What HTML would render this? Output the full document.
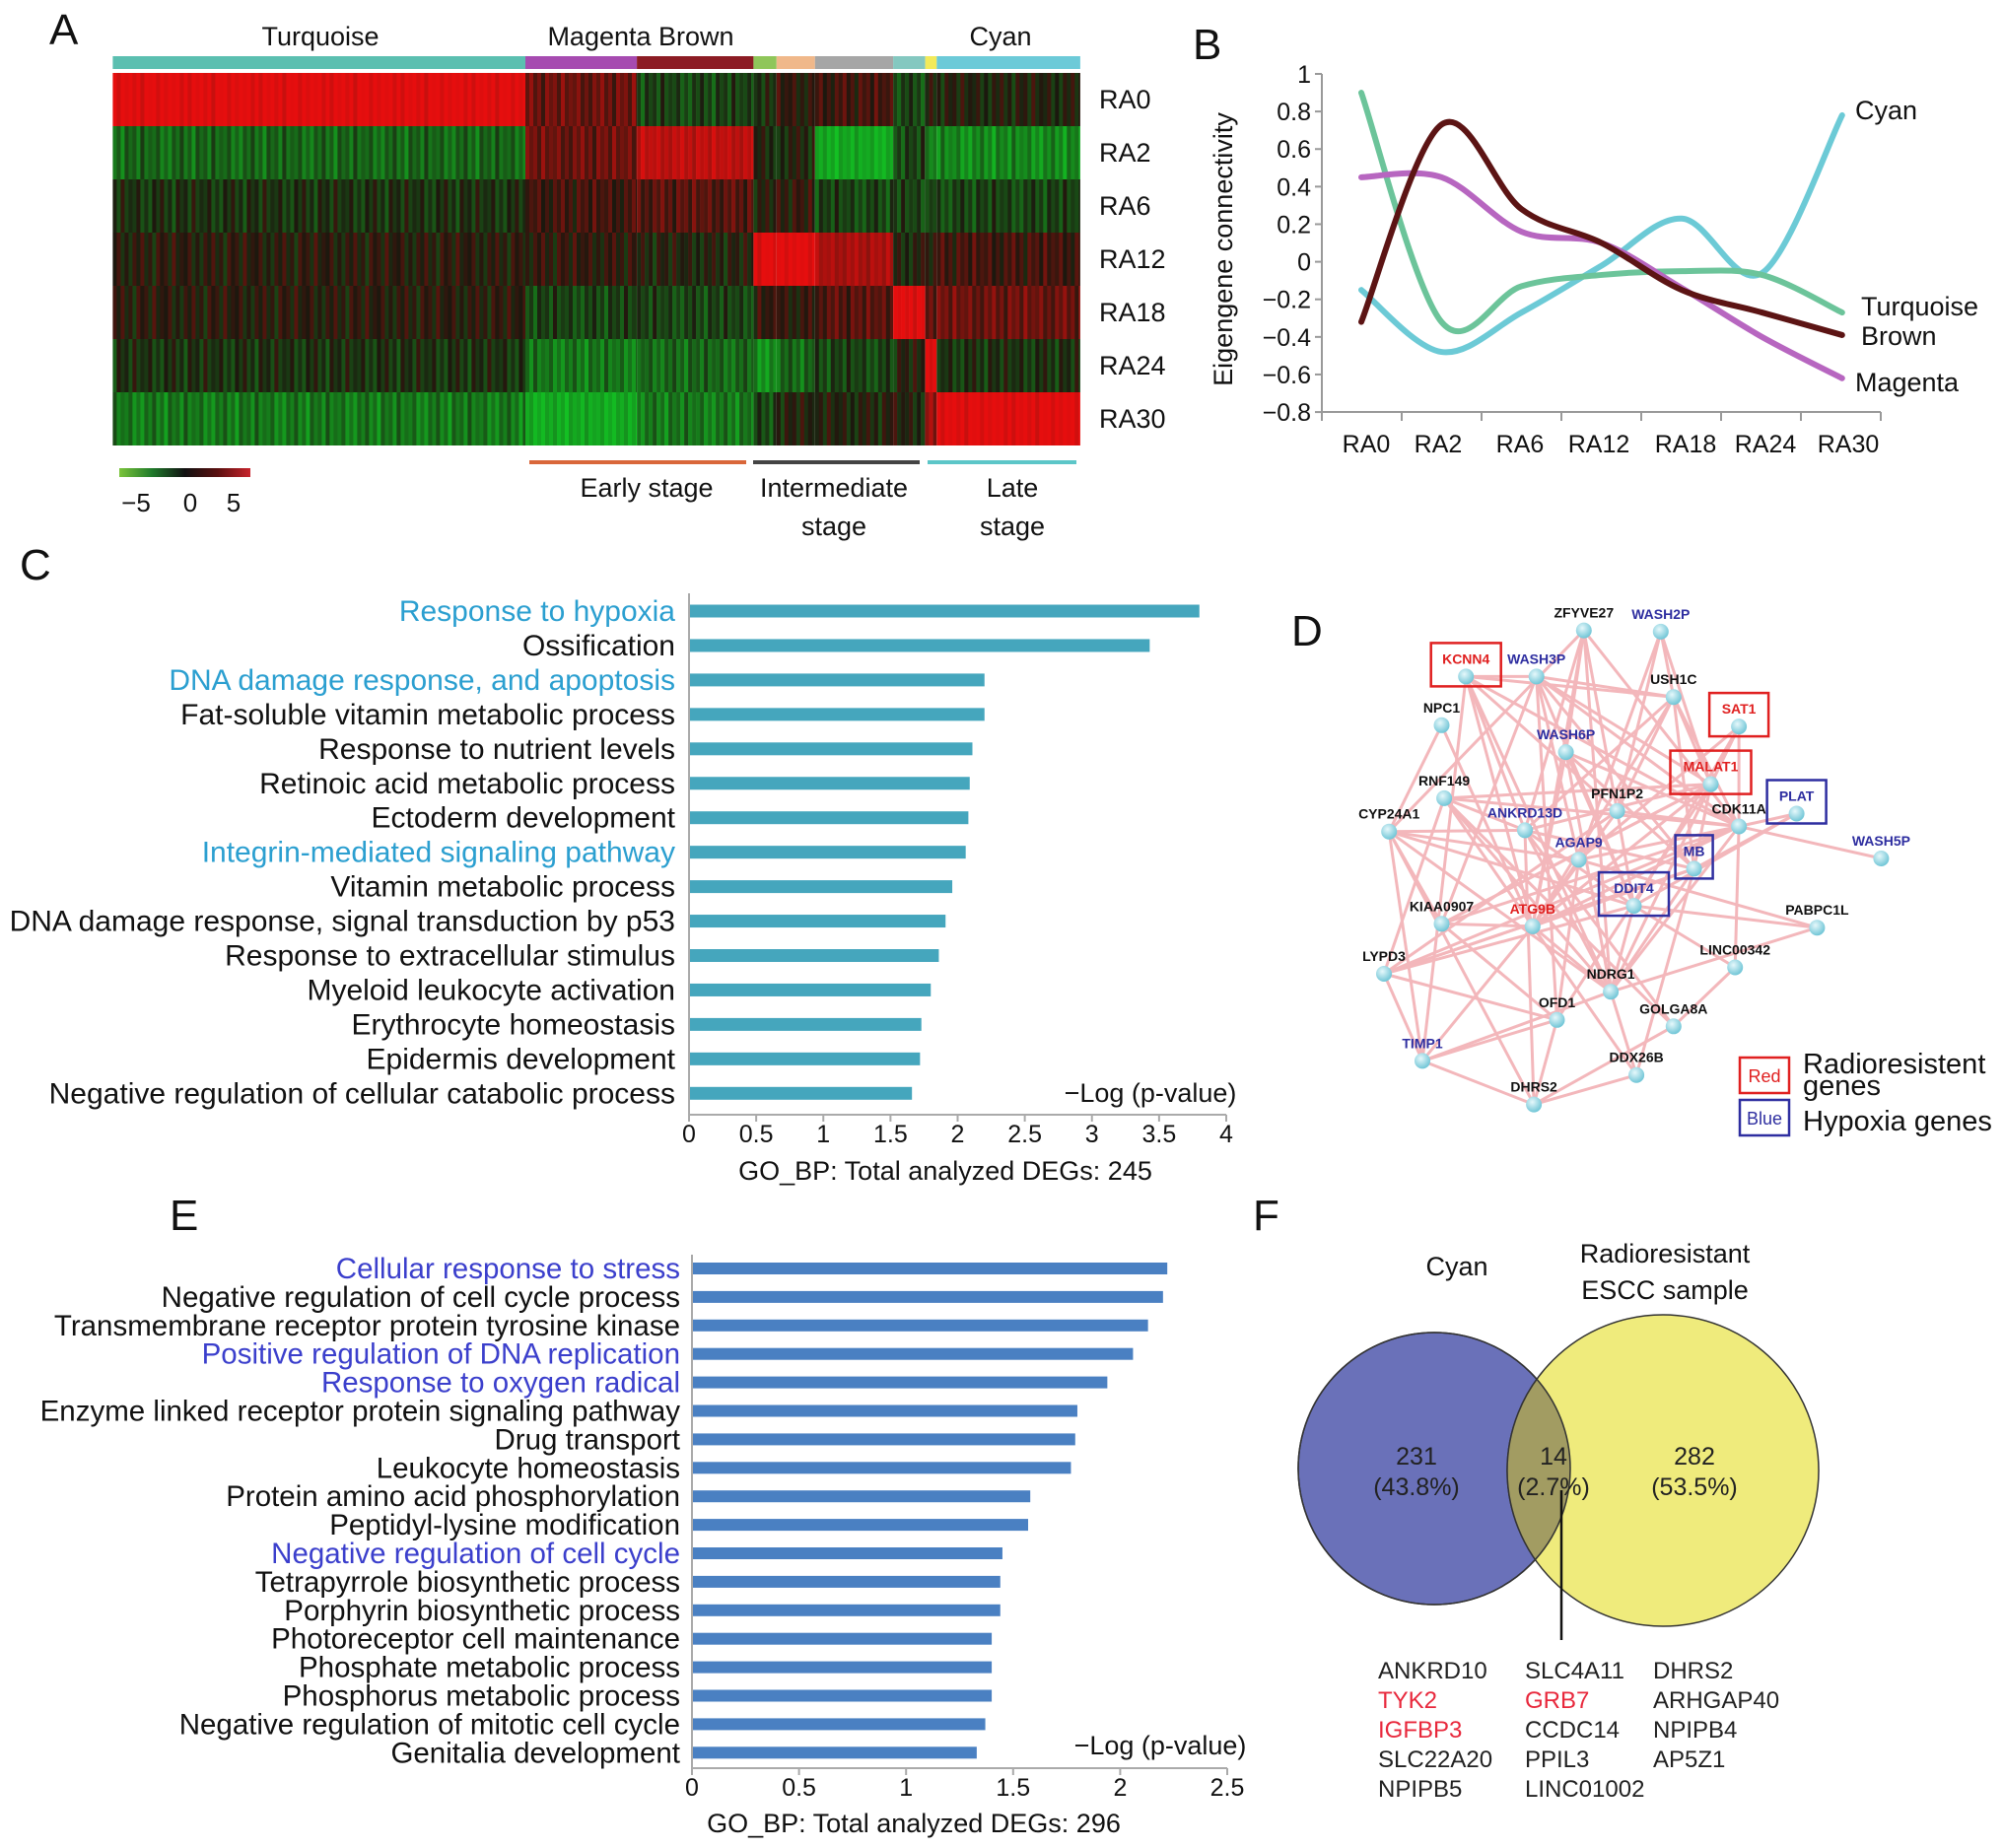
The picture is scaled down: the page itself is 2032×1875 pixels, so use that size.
<!DOCTYPE html>
<html><head><meta charset="utf-8">
<style>
html,body{margin:0;padding:0;background:#fff;}
svg{display:block;font-family:"Liberation Sans",Arial,sans-serif;}
</style></head>
<body>
<svg id="fig" width="2032" height="1875" viewBox="0 0 2032 1875" xmlns="http://www.w3.org/2000/svg">
<rect width="2032" height="1875" fill="#fff"/>
<g font-size="44" fill="#111">
<text x="50" y="45">A</text>
<text x="1210" y="60">B</text>
<text x="20" y="588">C</text>
<text x="1310" y="655">D</text>
<text x="172" y="1248">E</text>
<text x="1271" y="1248">F</text>
</g>
<g id="pa"></g>
<g id="pb"></g>
<g id="pc"></g>
<g id="pd"></g>
<g id="pe"></g>
<g id="pf"></g>
</svg>
<script>
const NS="http://www.w3.org/2000/svg";
function mk(parent,tag,attrs,txt){const e=document.createElementNS(NS,tag);for(const k in attrs)e.setAttribute(k,attrs[k]);if(txt!==undefined)e.textContent=txt;parent.appendChild(e);return e;}

/* ---------- Panel A data ---------- */
const heatRows=["RA0","RA2","RA6","RA12","RA18","RA24","RA30"];
const moduleNames=["turquoise","magenta","brown","green","peach","grey","teal","yellow","cyan"];
const moduleColors=["#5bbfb0","#a64bb0","#8c1c24","#8fc65a","#f0b88a","#a6a6a6","#84c8c0","#f2ea5a","#6ccad8"];
const moduleBounds=[88,410,497,588,606,636,697,722,731,843];
const heatVals=[
 [5,2,-1,-0.5,0.5,1,-1,0,0],
 [-2,2,4,0,0,-4,-1,-3,-3],
 [-0.5,1,1.5,0,0.5,-1,-1,-1,-1],
 [0.3,0.5,0,5,5,3.5,0,0.5,1],
 [0.3,-1,-1,0.5,0.5,1.5,5,2,2],
 [-0.5,-2.5,-2,-3,-2,-1,0,5,-0.5],
 [-2.5,-4,-2.5,-1,0,0,0,3,5]
];
const stripeTexture=[0,-1.2,0.6,-0.4,1.1,-0.8,0.3,-1.5,0.9,-0.2,0.5,-1,1.3,-0.6,0.2,-0.3,0.8,-1.1];
function heatColor(v){v=Math.max(-5,Math.min(5,v));
 if(v>=0){const t=v/5;return `rgb(${Math.round(28+t*202)},${Math.round(24-t*10)},${Math.round(14)})`;}
 const t=-v/5;return `rgb(${Math.round(28-t*10)},${Math.round(30+t*170)},${Math.round(16+t*20)})`;}
(function(){
 const g=document.getElementById('pa');const S=1.3;
 const hy0=74,rowH=54;
 const colX=b=>b*S;
 moduleBounds.slice(0,-1).forEach((b,i)=>{
  const r=mk(g,'rect',{x:colX(b),y:57,width:colX(moduleBounds[i+1])-colX(b),height:13,fill:moduleColors[i]});
  
  
 });
 heatRows.forEach((rn,ri)=>{
  moduleBounds.slice(0,-1).forEach((b,ci)=>{
   const x0=colX(b),x1=colX(moduleBounds[ci+1]);
   let k=ri*5+ci*3;
   for(let x=x0;x<x1;x+=4){
    const v=heatVals[ri][ci]+stripeTexture[(k++)%stripeTexture.length]*(Math.abs(heatVals[ri][ci])>3?0.5:0.9);
    mk(g,'rect',{x:x,y:hy0+ri*rowH,width:Math.min(4.3,x1-x),height:rowH,fill:heatColor(v)});
   }
  });
  const t=mk(g,'text',{x:1115,y:hy0+ri*rowH+rowH/2+9,'font-size':27,fill:'#111'},rn);
  
  
 });
 const labs=[["Turquoise",325],["Magenta Brown",650],["Cyan",1015]];
 labs.forEach(l=>{const t=mk(g,'text',{x:l[1],y:46,'font-size':27,'text-anchor':'middle',fill:'#111'},l[0]);
  });
 const defs=mk(g,'defs',{});const lg=mk(defs,'linearGradient',{id:'hg',x1:0,x2:1,y1:0,y2:0});
 [[0,'#7ac43a'],[0.25,'#1f7a2a'],[0.5,'#111'],[0.75,'#5a1010'],[1,'#c8242c']].forEach(s=>mk(lg,'stop',{offset:s[0],'stop-color':s[1]}));
 const lr=mk(g,'rect',{x:121,y:475,width:133,height:9,fill:'url(#hg)'});
 
 [["\u22125",138],["0",193],["5",237]].forEach(l=>mk(g,'text',{x:l[1],y:519,'font-size':26,'text-anchor':'middle',fill:'#111'},l[0]));
 const stages=[[537,757,'#d9673a',"Early stage",null,656],[764,933,'#444',"Intermediate","stage",846],[941,1092,'#5cc6c8',"Late","stage",1027]];
 stages.forEach(s=>{const l=mk(g,'line',{x1:s[0],x2:s[1],y1:469,y2:469,stroke:s[2],'stroke-width':4});
  
  mk(g,'text',{x:s[5],y:504,'font-size':27,'text-anchor':'middle',fill:'#111'},s[3]);
  if(s[4])mk(g,'text',{x:s[5],y:543,'font-size':27,'text-anchor':'middle',fill:'#111'},s[4]);});
})();

/* ---------- Panel B data ---------- */
const timeCats=["RA0","RA2","RA6","RA12","RA18","RA24","RA30"];
const yTicksB=[1,0.8,0.6,0.4,0.2,0,-0.2,-0.4,-0.6,-0.8];
const turquoiseVals=[0.9,-0.32,-0.13,-0.07,-0.05,-0.07,-0.27];
const brownVals=[-0.32,0.73,0.28,0.1,-0.15,-0.27,-0.39];
const magentaVals=[0.45,0.45,0.16,0.1,-0.14,-0.4,-0.62];
const cyanVals=[-0.15,-0.48,-0.27,-0.02,0.23,-0.06,0.78];
(function(){
 const g=document.getElementById('pb');
 const yS=v=>75+(1-v)*190.6;
 const xS=i=>1381+i*81.3;
 mk(g,'line',{x1:1341,x2:1341,y1:75,y2:418,stroke:'#999','stroke-width':2});
 mk(g,'line',{x1:1341,x2:1908,y1:418,y2:418,stroke:'#999','stroke-width':2});
 yTicksB.forEach(v=>{mk(g,'line',{x1:1334,x2:1341,y1:yS(v),y2:yS(v),stroke:'#999','stroke-width':2});
  const t=mk(g,'text',{x:1330,y:yS(v)+9,'font-size':25,'text-anchor':'end',fill:'#111'},(v<0?'\u2212':'')+Math.abs(v));
  });
 for(let k=0;k<=7;k++)mk(g,'line',{x1:1341+k*81,x2:1341+k*81,y1:418,y2:427,stroke:'#999','stroke-width':2});
 const labX=[1386,1459,1542,1622,1710,1791,1875];
 timeCats.forEach((c,i)=>{const t=mk(g,'text',{x:labX[i],y:459,'font-size':25,'text-anchor':'middle',fill:'#111'},c);
  });
 const yt=mk(g,'text',{x:0,y:0,'font-size':27,'text-anchor':'middle',fill:'#111',transform:'translate(1250,253) rotate(-90)'},'Eigengene connectivity');
 
 function smooth(vals){const p=vals.map((v,i)=>[xS(i),yS(v)]);let d=`M${p[0][0]},${p[0][1]}`;
  for(let i=0;i<p.length-1;i++){const p0=p[Math.max(0,i-1)],p1=p[i],p2=p[i+1],p3=p[Math.min(p.length-1,i+2)];
   d+=` C${p1[0]+(p2[0]-p0[0])/6},${p1[1]+(p2[1]-p0[1])/6} ${p2[0]-(p3[0]-p1[0])/6},${p2[1]-(p3[1]-p1[1])/6} ${p2[0]},${p2[1]}`;}return d;}
 const series=[["cyan",cyanVals,'#6ccad6'],["turquoise",turquoiseVals,'#6cc49a'],["magenta",magentaVals,'#b766c0'],["brown",brownVals,'#5c1414']];
 series.forEach(s=>{const p=mk(g,'path',{d:smooth(s[1]),fill:'none',stroke:s[2],'stroke-width':6,'stroke-linecap':'round'});
  });
 [["Cyan",1882,121],["Turquoise",1888,320],["Brown",1888,350],["Magenta",1882,397]].forEach(l=>{
  const t=mk(g,'text',{x:l[1],y:l[2],'font-size':27,fill:'#111'},l[0]);
  });
})();

/* ---------- Panel C data ---------- */
const cTerms=["Response to hypoxia","Ossification","DNA damage response, and apoptosis","Fat-soluble vitamin metabolic process","Response to nutrient levels","Retinoic acid metabolic process","Ectoderm development","Integrin-mediated signaling pathway","Vitamin metabolic process","DNA damage response, signal transduction by p53","Response to extracellular stimulus","Myeloid leukocyte activation","Erythrocyte homeostasis","Epidermis development","Negative regulation of cellular catabolic process"];
const cValues=[3.8,3.43,2.2,2.2,2.11,2.09,2.08,2.06,1.96,1.91,1.86,1.8,1.73,1.72,1.66];
const cHighlight=[1,0,1,0,0,0,0,1,0,0,0,0,0,0,0];
const cTicks=[0,0.5,1,1.5,2,2.5,3,3.5,4];
/* ---------- Panel E data ---------- */
const eTerms=["Cellular response to stress","Negative regulation of cell cycle process","Transmembrane receptor protein tyrosine kinase","Positive regulation of DNA replication","Response to oxygen radical","Enzyme linked receptor protein signaling pathway","Drug transport","Leukocyte homeostasis","Protein amino acid phosphorylation","Peptidyl-lysine modification","Negative regulation of cell cycle","Tetrapyrrole biosynthetic process","Porphyrin biosynthetic process","Photoreceptor cell maintenance","Phosphate metabolic process","Phosphorus metabolic process","Negative regulation of mitotic cell cycle","Genitalia development"];
const eValues=[2.22,2.2,2.13,2.06,1.94,1.8,1.79,1.77,1.58,1.57,1.45,1.44,1.44,1.4,1.4,1.4,1.37,1.33];
const eHighlight=[1,0,0,1,1,0,0,0,0,0,1,0,0,0,0,0,0,0];
const eTicks=[0,0.5,1,1.5,2,2.5];
function barChart(gid,terms,vals,hl,ticks,o){
 const g=document.getElementById(gid);
 const xS=v=>o.x0+v*o.k;
 terms.forEach((t,i)=>{const cy=o.y0+i*o.step;
  const tx=mk(g,'text',{x:o.lx,y:cy+10,'font-size':o.fs,'text-anchor':'end',fill:hl[i]?o.hc:'#111'},t);
  
  const r=mk(g,'rect',{x:xS(0),y:cy-o.bh/2,width:xS(vals[i])-xS(0),height:o.bh,fill:o.bc});
  });
 mk(g,'line',{x1:o.x0,x2:o.x0,y1:o.ytop,y2:o.ax,stroke:'#aaa','stroke-width':2});
 mk(g,'line',{x1:o.x0,x2:xS(ticks[ticks.length-1]),y1:o.ax,y2:o.ax,stroke:'#aaa','stroke-width':2});
 ticks.forEach(v=>{mk(g,'line',{x1:xS(v),x2:xS(v),y1:o.ax,y2:o.ax+7,stroke:'#aaa','stroke-width':2});
  const t=mk(g,'text',{x:xS(v),y:o.ax+28,'font-size':25,'text-anchor':'middle',fill:'#111'},String(v));
  });
 const lt=mk(g,'text',{x:o.lgx,y:o.lgy,'font-size':27,'text-anchor':'middle',fill:'#111'},'\u2212Log (p-value)');
 
 const tt=mk(g,'text',{x:o.tx,y:o.ty,'font-size':27,'text-anchor':'middle',fill:'#111'},o.title);
 
}
barChart('pc',cTerms,cValues,cHighlight,cTicks,{x0:699,k:136.25,y0:620,step:34.95,bh:13,lx:685,fs:30,hc:'#2b9fd0',bc:'#45a6bd',ax:1131,ytop:602,lgx:1167,lgy:1118,tx:959,ty:1197,title:'GO_BP: Total analyzed DEGs: 245'});
barChart('pe',eTerms,eValues,eHighlight,eTicks,{x0:702,k:217.2,y0:1287,step:28.9,bh:12,lx:690,fs:29.5,hc:'#3b3fcc',bc:'#4a80c2',ax:1794,ytop:1273,lgx:1177,lgy:1780,tx:927,ty:1859,title:'GO_BP: Total analyzed DEGs: 296'});

/* ---------- Panel D data ---------- */
const nodeNames=["ZFYVE27","WASH2P","KCNN4","WASH3P","USH1C","NPC1","SAT1","WASH6P","MALAT1","RNF149","PFN1P2","PLAT","CDK11A","CYP24A1","ANKRD13D","AGAP9","MB","WASH5P","DDIT4","ATG9B","KIAA0907","PABPC1L","LYPD3","LINC00342","NDRG1","OFD1","GOLGA8A","TIMP1","DDX26B","DHRS2"];
const nodeX=[1236,1296,1144,1199,1306,1125,1357,1222,1335,1127,1262,1402,1357,1084,1190,1232,1322,1468,1275,1196,1125,1418,1080,1354,1257,1215,1306,1110,1277,1197];
const nodeY=[492,493,528,528,544,566,567,587,612,623,633,635,645,649,648,671,678,670,707,723,721,724,760,755,774,796,801,828,839,862];
const nodeType=["k","b","r","b","k","k","r","b","r","k","k","b","k","k","b","b","b","b","b","r","k","k","k","k","k","k","k","b","k","k"];
const boxed=["KCNN4","SAT1","MALAT1","PLAT","MB","DDIT4"];
const edges=[[0,7],[0,10],[0,14],[0,19],[0,24],[0,12],[1,4],[1,8],[1,10],[1,15],[2,3],[2,4],[2,14],[2,19],[2,24],[2,10],[3,4],[3,8],[3,12],[3,18],[3,25],[4,8],[4,12],[4,16],[4,14],[5,13],[6,12],[6,8],[6,15],[6,18],[7,12],[7,18],[7,24],[7,16],[8,9],[8,14],[8,19],[8,20],[8,25],[9,12],[9,22],[9,26],[9,14],[10,12],[10,19],[11,12],[11,16],[12,17],[12,19],[12,20],[12,22],[12,24],[12,23],[13,15],[13,20],[13,27],[13,29],[13,24],[13,18],[14,16],[14,29],[15,21],[15,25],[16,24],[16,28],[16,22],[18,22],[18,24],[18,23],[19,27],[19,28],[20,8],[21,18],[21,24],[22,27],[22,25],[22,16],[23,26],[24,27],[24,28],[25,29],[26,29],[27,29],[27,25],[28,29],[20,25],[5,19],[9,24],[3,20],[10,22],[14,26],[2,27],[6,24],[11,18],[4,19],[0,13],[3,15],[7,19],[10,18],[14,18],[15,19],[16,19],[12,15],[8,16],[9,19],[14,24],[13,14],[20,19],[19,24],[2,12],[3,16],[4,10]];
(function(){
 const g=document.getElementById('pd');const S=1.3;
 const eg=mk(g,'g',{stroke:'#f2b0b4','stroke-width':3,opacity:0.9});
 edges.forEach(e=>{const l=mk(eg,'line',{x1:nodeX[e[0]]*S,y1:nodeY[e[0]]*S,x2:nodeX[e[1]]*S,y2:nodeY[e[1]]*S});
  });
 const defs=mk(g,'defs',{});const rg=mk(defs,'radialGradient',{id:'ng',cx:0.4,cy:0.35,r:0.7});
 mk(rg,'stop',{offset:0,'stop-color':'#e6f8fb'});mk(rg,'stop',{offset:1,'stop-color':'#68c2d4'});
 const col={k:'#111',b:'#2e2ea0',r:'#e02020'};
 nodeNames.forEach((n,i)=>{const x=nodeX[i]*S,y=nodeY[i]*S;
  const c=mk(g,'circle',{cx:x,cy:y,r:8,fill:'url(#ng)'});
  
  const t=mk(g,'text',{x:x,y:y-13,'font-size':14,'font-weight':'bold','text-anchor':'middle',fill:col[nodeType[i]]},n);
  
  if(boxed.includes(n)){const w=n.length*11+16;
   const b=mk(g,'rect',{x:x-w/2,y:y-34,width:w,height:44,fill:'none',stroke:nodeType[i]==='r'?'#e02020':'#2e2ea0','stroke-width':2.5});
   }
 });
 const lr=mk(g,'rect',{x:1765,y:1073,width:50,height:36,fill:'none',stroke:'#e02020','stroke-width':2.5});
 
 mk(g,'text',{x:1790,y:1098,'font-size':18,'text-anchor':'middle',fill:'#e02020'},'Red');
 const lb=mk(g,'rect',{x:1765,y:1116,width:50,height:36,fill:'none',stroke:'#2e2ea0','stroke-width':2.5});
 
 mk(g,'text',{x:1790,y:1141,'font-size':18,'text-anchor':'middle',fill:'#2e2ea0'},'Blue');
 mk(g,'text',{x:1829,y:1089,'font-size':29,fill:'#111'},'Radioresistent');
 mk(g,'text',{x:1829,y:1111,'font-size':29,fill:'#111'},'genes');
 mk(g,'text',{x:1829,y:1147,'font-size':29,fill:'#111'},'Hypoxia genes');
})();

/* ---------- Panel F data ---------- */
const vennCounts=[231,14,282];
const vennPercents=["43.8%","2.7%","53.5%"];
const geneCol1=["ANKRD10","TYK2","IGFBP3","SLC22A20","NPIPB5"];
const geneCol2=["SLC4A11","GRB7","CCDC14","PPIL3","LINC01002"];
const geneCol3=["DHRS2","ARHGAP40","NPIPB4","AP5Z1"];
const redGenes=["TYK2","IGFBP3","GRB7"];
(function(){
 const g=document.getElementById('pf');
 const defs=mk(g,'defs',{});const cp=mk(defs,'clipPath',{id:'lc'});mk(cp,'circle',{cx:1455,cy:1490,r:138});
 const c1=mk(g,'circle',{cx:1455,cy:1490,r:138,fill:'#6a71b9',stroke:'#333','stroke-width':1.5});
 
 const c2=mk(g,'circle',{cx:1687,cy:1492,r:158,fill:'#efeb7c',stroke:'#333','stroke-width':1.5});
 
 const ov=mk(g,'circle',{cx:1687,cy:1492,r:158,fill:'#a29c62','clip-path':'url(#lc)',stroke:'#333','stroke-width':1.5});
 
 mk(g,'circle',{cx:1455,cy:1490,r:138,fill:'none',stroke:'#333','stroke-width':1.5});
 const xs=[1437,1576,1719];
 vennCounts.forEach((c,i)=>{mk(g,'text',{x:xs[i],y:1486,'font-size':25,'text-anchor':'middle',fill:'#222'},String(c));
  mk(g,'text',{x:xs[i],y:1517,'font-size':25,'text-anchor':'middle',fill:'#222'},'('+vennPercents[i]+')');});
 mk(g,'text',{x:1478,y:1294,'font-size':27,'text-anchor':'middle',fill:'#111'},'Cyan');
 mk(g,'text',{x:1689,y:1281,'font-size':27,'text-anchor':'middle',fill:'#111'},'Radioresistant');
 mk(g,'text',{x:1689,y:1318,'font-size':27,'text-anchor':'middle',fill:'#111'},'ESCC sample');
 mk(g,'line',{x1:1584,x2:1584,y1:1512,y2:1664,stroke:'#111','stroke-width':2.5});
 [[geneCol1,1398],[geneCol2,1547],[geneCol3,1677]].forEach(cc=>cc[0].forEach((n,i)=>{
  const t=mk(g,'text',{x:cc[1],y:1703+i*30,'font-size':24,fill:redGenes.includes(n)?'#e8283c':'#222'},n);
  }));
})();
</script>
</body></html>
